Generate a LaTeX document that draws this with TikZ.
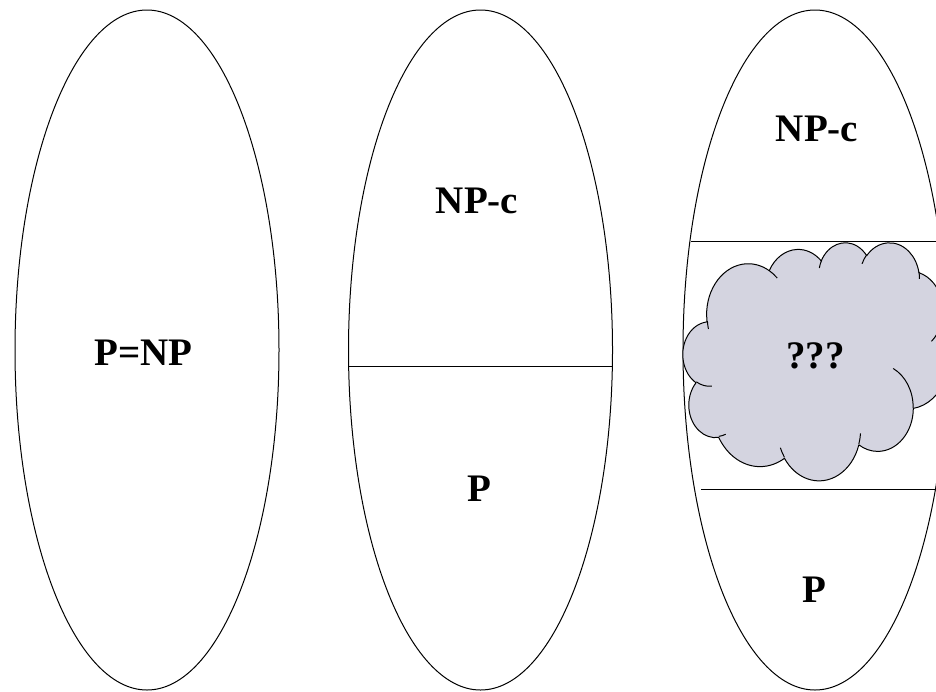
\documentclass[tikz,border=0pt]{standalone}
\usepackage{fontspec}
\setmainfont{Liberation Serif}
\usetikzlibrary{shapes.geometric}
\makeatletter
% parametric angle of an ellipse point given its visual angle #1, radii #2 (x) and #3 (y)
\pgfmathdeclarefunction{parang}{3}{%
  \begingroup
    \pgfmathparse{atan2((#2)*sin(#1),(#3)*cos(#1))}%
    \let\pa@t\pgfmathresult
    \pgfmathparse{(\pa@t)+360*round(((#1)-(\pa@t))/360)}%
    \pgfmath@smuggleone\pgfmathresult
  \endgroup}
\makeatother
\definecolor{cloudfill}{RGB}{212,212,224}
\tikzset{
  oo/.code args={#1/#2/#3/#4}{%
    \pgfmathsetmacro\ooS{parang(#3,#1,#2)}%
    \pgfmathsetmacro\ooE{parang((#3)+(#4),#1,#2)}%
    \pgfkeysalso{x radius=#1, y radius=#2, start angle=\ooS, end angle=\ooE}},
  region/.style={ellipse, draw, line width=1pt, minimum width=264pt, minimum height=680pt, inner sep=0pt},
  txt/.style={font=\fontsize{39}{47}\selectfont\bfseries, anchor=base, inner sep=0pt},
  divider/.style={line width=1pt},
  cloudline/.style={line width=1pt, line join=round},
}
\begin{document}
\begin{tikzpicture}[x=1pt, y=-1pt]
\useasboundingbox (0,0) rectangle (936,691);
\clip (0,0) rectangle (936,691);
\fill[white] (0,0) rectangle (936,691);
% three regions
\node[region] (e1) at (147,350) {};
\node[region] (e2) at (480.5,350) {};
\node[region] (e3) at (815,350) {};
% dividers
\coordinate (d2l) at (348.2,366);
\coordinate (d2r) at (612.8,366);
\draw[divider] (d2l) -- (d2r);
\coordinate (d3tl) at (691,241.7);
\coordinate (d3tr) at (940,241.7);
\coordinate (d3bl) at (701,489.5);
\coordinate (d3br) at (940,489.5);
\draw[divider] (d3tl) -- (d3tr);
\draw[divider] (d3bl) -- (d3br);
% cloud
\begin{scope}[shift={(683,242)}, x=0.61574pt, y=-0.55093pt]
\draw[cloudline, fill=cloudfill] (39.00,143.70)
  arc[oo=67.53/91.90/-190.48748/123.78053]
  arc[oo=53.33/72.67/-144.10238/89.94523]
  arc[oo=43.65/59.45/-145.80792/99.72302]
  arc[oo=48.57/65.95/-130.98607/117.24173]
  arc[oo=53.33/72.73/-78.70888/109.02692]
  arc[oo=67.75/92.20/-46.26725/130.269]
  arc[oo=57.85/78.67/0.62502/114.03333]
  arc[oo=67.52/92.15/22.4516/115.17255]
  arc[oo=77.20/105.43/66.24263/75.71102]
  arc[oo=43.60/59.18/-274.94208/146.73557]
  arc[oo=43.45/59.45/-246.8285/152.51885]
  -- cycle;
\draw[cloudline]
  (46.93,261.77) arc[oo=43.45/59.45/86.742/26.4295]
  (69.28,348.99) arc[oo=43.60/59.18/73.61047/11.44747]
  (164.78,390.90) arc[oo=67.52/92.15/137.62415/14.0811]
  (288.27,347.51) arc[oo=67.52/92.15/6.45327/15.99835]
  (341.29,229.54) arc[oo=57.85/78.67/-70.29235/70.91737]
  (417.98,153.54) arc[oo=53.33/72.73/30.31803/27.7515]
  (383.24,54.26) arc[oo=48.57/65.95/-13.7443/14.8589]
  (290.78,39.52) arc[oo=48.57/65.95/-149.18145/18.19537]
  (221.41,47.20) arc[oo=43.65/59.45/-163.49427/17.68635]
  (140.00,51.92) arc[oo=67.53/91.90/-66.70695/12.31935]
  (41.27,157.89) arc[oo=67.53/91.90/162.0381/11.85227];
\end{scope}
% labels
\node[txt] (t1) at (143.5,365) {P=NP};
\node[txt] (t2) at (477,213) {NP-c};
\node[txt] (t3) at (479.5,501) {P};
\node[txt] (t4) at (817,141) {NP-c};
\node[txt] (t5) at (815.5,368.3) {???};
\node[txt] (t6) at (814,602) {P};
\end{tikzpicture}
\end{document}
